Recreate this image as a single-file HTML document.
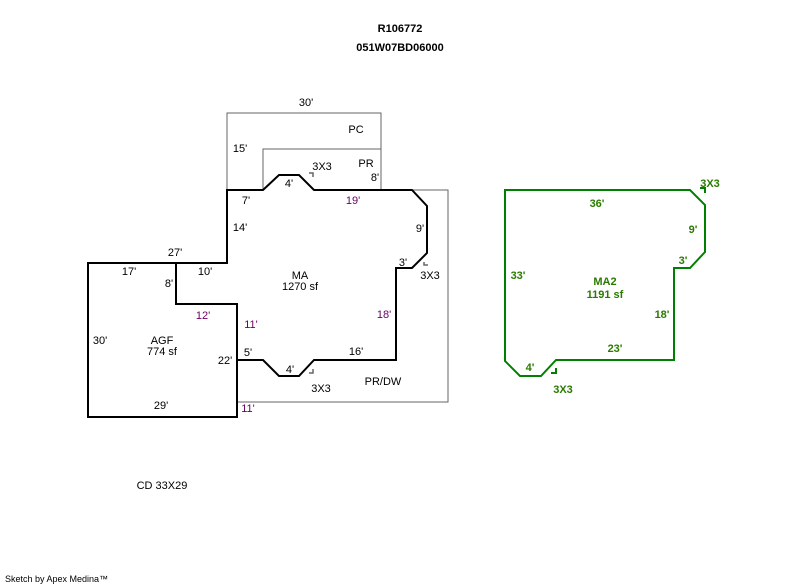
<!DOCTYPE html>
<html><head><style>
html,body{margin:0;padding:0;background:#fff;width:800px;height:587px;overflow:hidden}
svg text{font-family:"Liberation Sans",Arial,sans-serif;font-size:11px}
</style></head><body>
<svg width="800" height="587" xmlns="http://www.w3.org/2000/svg">
<g fill="none" stroke="#666" stroke-width="1">
<path d="M227,190 V113 H381 V190"/>
<path d="M263,190 V149 H381 V190"/>
<path d="M412,190 H448 V402 H237"/>
</g>
<g fill="none" stroke="#000" stroke-width="2">
<path d="M227,190 H263 L279,175 H299 L314,190 H412 L427,206 V253 L412,268 H396 V360 H314 L299,376 H279 L263,360 H237 V304 H176 V263 H227 Z"/>
<path d="M176,263 H88 V417 H237 V304"/>
</g>
<g fill="none" stroke="#666" stroke-width="1.5">
<path d="M309,173 H313 V177"/>
<path d="M424,262 V265 H428"/>
<path d="M309,373 H313 V369"/>
</g>
<path d="M505,190 H690 L705,205 V252 L690,268 H674 V360 H556 L541,376 H520 L505,361 Z" fill="none" stroke="#008000" stroke-width="2"/>
<g fill="none" stroke="#008000" stroke-width="2">
<path d="M700,188 H705 V193"/>
<path d="M551,373 H556 V368"/>
</g>
<g fill="#000" text-anchor="middle">
<text x="400" y="32" font-weight="bold">R106772</text>
<text x="400" y="51" font-weight="bold">051W07BD06000</text>
<text x="306" y="106">30'</text>
<text x="356" y="133">PC</text>
<text x="240" y="152">15'</text>
<text x="366" y="167">PR</text>
<text x="322" y="170">3X3</text>
<text x="375" y="181">8'</text>
<text x="289" y="187">4'</text>
<text x="246" y="204">7'</text>
<text x="240" y="231">14'</text>
<text x="420" y="232">9'</text>
<text x="175" y="256">27'</text>
<text x="403" y="266">3'</text>
<text x="430" y="279">3X3</text>
<text x="129" y="275">17'</text>
<text x="205" y="275">10'</text>
<text x="169" y="287">8'</text>
<text x="300" y="279">MA</text>
<text x="300" y="290">1270 sf</text>
<text x="100" y="344">30'</text>
<text x="162" y="344">AGF</text>
<text x="162" y="355">774 sf</text>
<text x="225" y="364">22'</text>
<text x="248" y="356">5'</text>
<text x="356" y="355">16'</text>
<text x="290" y="373">4'</text>
<text x="321" y="392">3X3</text>
<text x="383" y="385">PR/DW</text>
<text x="161" y="409">29'</text>
<text x="162" y="489">CD 33X29</text>
</g>
<g fill="#660066" text-anchor="middle">
<text x="353" y="204">19'</text>
<text x="203" y="319">12'</text>
<text x="251" y="328">11'</text>
<text x="384" y="318">18'</text>
<text x="248" y="412">11'</text>
</g>
<g fill="#2a7a00" text-anchor="middle" font-weight="bold">
<text x="710" y="187">3X3</text>
<text x="597" y="207">36'</text>
<text x="693" y="233">9'</text>
<text x="683" y="264">3'</text>
<text x="518" y="279">33'</text>
<text x="605" y="285">MA2</text>
<text x="605" y="298">1191 sf</text>
<text x="662" y="318">18'</text>
<text x="615" y="352">23'</text>
<text x="530" y="371">4'</text>
<text x="563" y="393">3X3</text>
</g>
<text x="5" y="582" style="font-size:9px" fill="#000">Sketch by Apex Medina™</text>
</svg>
</body></html>
